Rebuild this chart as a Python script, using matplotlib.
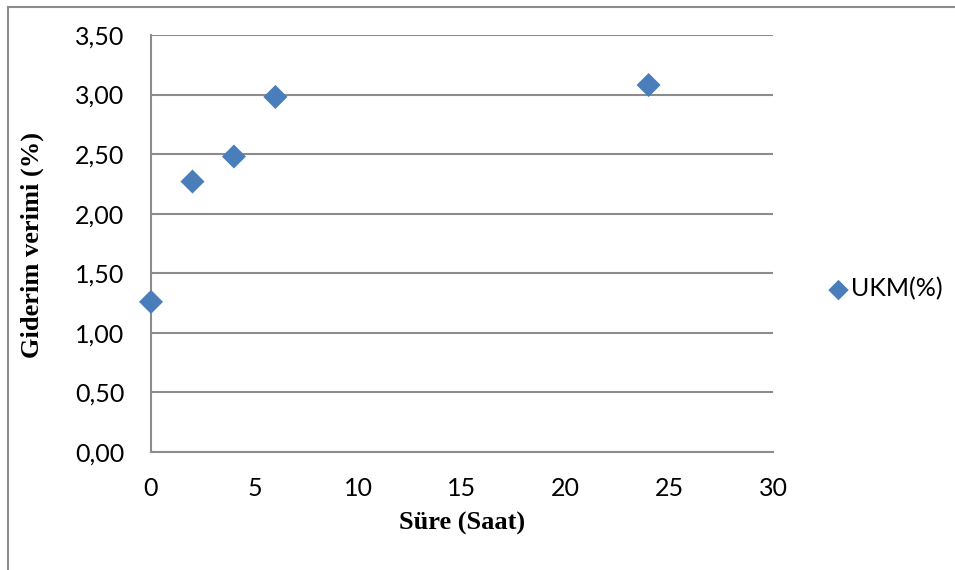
import matplotlib.pyplot as plt
from matplotlib.lines import Line2D
from matplotlib.ticker import FuncFormatter, MultipleLocator

# Süre (saat) ve UKM giderim verimi (%)
sure_saat = [0, 2, 4, 6, 24]
ukm_verim = [1.26, 2.27, 2.48, 2.98, 3.08]
seri_adi = "UKM(%)"

GRI = "#8c8c8c"
MAVI = "#4a7ebb"

W, H = 955, 570
fig = plt.figure(figsize=(W / 100, H / 100), dpi=100)
ax = fig.add_axes([151 / W, 118 / H, 622 / W, 417 / H])

ax.scatter(sure_saat, ukm_verim, marker="D", s=150, color=MAVI,
           edgecolors="none", zorder=3, label=seri_adi, clip_on=False)

ax.set_xlim(0, 30)
ax.set_ylim(0, 3.5)
ax.xaxis.set_major_locator(MultipleLocator(5))
ax.yaxis.set_major_locator(MultipleLocator(0.5))
ax.yaxis.set_major_formatter(FuncFormatter(lambda v, _: f"{v:.2f}".replace(".", ",")))

ax.grid(axis="y", color=GRI, linewidth=1.5)
ax.set_axisbelow(True)
for side in ("top", "right"):
    ax.spines[side].set_visible(False)
for side in ("left", "bottom"):
    ax.spines[side].set_color(GRI)
    ax.spines[side].set_linewidth(1.5)

ax.tick_params(axis="both", length=0, labelsize=18, colors="black")
ax.tick_params(axis="y", pad=19)
ax.tick_params(axis="x", pad=18)
for lbl in ax.get_xticklabels() + ax.get_yticklabels():
    lbl.set_family("Lato")

etiket_font = dict(family="Liberation Serif", fontweight="bold", fontsize=19)
fig.text(462 / W, 1 - 523 / H, "Süre (Saat)", ha="center", va="center", **etiket_font)
fig.text(32 / W, 1 - 245 / H, "Giderim verimi (%)", ha="center", va="center",
         rotation=90, **etiket_font)

ax.legend(loc="center left", bbox_to_anchor=(826 / W, 0.493),
          bbox_transform=fig.transFigure, frameon=False,
          prop={"family": "Lato", "size": 18}, handlelength=1.0,
          handletextpad=0.0, borderaxespad=0, borderpad=0, markerscale=0.85)

# dış çerçeve (sol ve üst kenar)
fig.add_artist(Line2D([7.5 / W, 7.5 / W], [0, 1 - 6.5 / H],
                      transform=fig.transFigure, color=GRI, linewidth=1.5))
fig.add_artist(Line2D([7.5 / W, 1], [1 - 6.5 / H, 1 - 6.5 / H],
                      transform=fig.transFigure, color=GRI, linewidth=1.5))

fig.savefig("out.png", dpi=100, facecolor="white")
